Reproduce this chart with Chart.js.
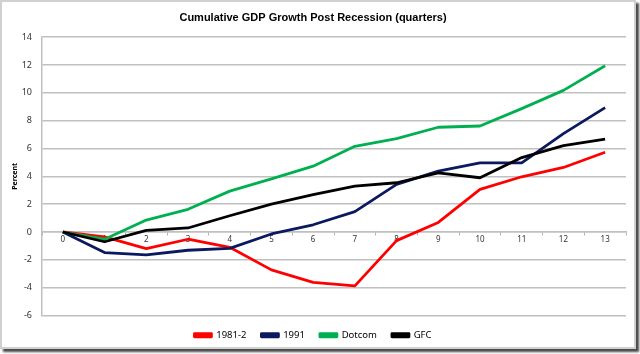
<!DOCTYPE html>
<html>
<head>
<meta charset="utf-8">
<script src="https://cdn.jsdelivr.net/npm/chart.js@4"></script>
<style>
  html, body { margin: 0; padding: 0; background: #fff; }
  #wrap { position: relative; width: 640px; height: 354px; }
  #chart { position: absolute; left: 0; top: 0; }
  /* Excel-style chart frame with drop shadow */
  #frame {
    position: absolute; left: 0; top: 0;
    width: 632px; height: 345px;
    border: 2px solid #d0d0d0;
    box-shadow: 3px 3px 2px #4a4a4a;
    pointer-events: none;
  }
</style>
</head>
<body>
<div id="wrap">
  <canvas id="chart" width="640" height="354"></canvas>
  <div id="frame"></div>
</div>
<script>
// ── Data ─────────────────────────────────────
const quarters = ['0','1','2','3','4','5','6','7','8','9','10','11','12','13'];
const rec1981  = [0, -0.35, -1.20, -0.52, -1.10, -2.72, -3.62, -3.87, -0.62, 0.69, 3.06, 3.97, 4.64, 5.73];
const rec1991  = [0, -1.48, -1.65, -1.31, -1.18, -0.14, 0.52, 1.46, 3.42, 4.37, 4.97, 4.97, 7.07, 8.94];
const dotcom   = [0, -0.52, 0.86, 1.63, 2.94, 3.82, 4.73, 6.16, 6.71, 7.53, 7.62, 8.87, 10.18, 11.95];
const gfc      = [0, -0.70, 0.12, 0.29, 1.17, 2.00, 2.68, 3.30, 3.54, 4.25, 3.90, 5.35, 6.21, 6.67];

const FONT = "'Noto Sans', 'Liberation Sans', sans-serif";

function series(label, data, color, order) {
  return {
    label, data, order,
    borderColor: color, backgroundColor: color,
    borderWidth: 2.8, pointRadius: 0, tension: 0,
    borderJoinStyle: 'round'
  };
}

// ── Chart ────────────────────────────────────
new Chart(document.getElementById('chart'), {
  type: 'line',
  data: {
    labels: quarters,
    datasets: [
      series('1981-2', rec1981, '#ff0000', 4),
      series('1991',   rec1991, '#0b1a5e', 3),
      series('Dotcom', dotcom,  '#00b050', 2),
      series('GFC',    gfc,     '#000000', 1)
    ]
  },
  options: {
    responsive: false,
    animation: false,
    layout: { padding: { left: 0, right: 14, top: 0, bottom: 4 } },
    plugins: {
      title: {
        display: true,
        text: 'Cumulative GDP Growth Post Recession (quarters)',
        color: '#000',
        font: { family: "'Liberation Sans', sans-serif", size: 11, weight: 'bold' },
        padding: { top: 11, bottom: 13 }
      },
      legend: {
        position: 'bottom',
        labels: {
          color: '#000',
          font: { family: FONT, size: 9.5 },
          boxWidth: 17, boxHeight: 3,
          padding: 15,
          sort: (a, b) => a.datasetIndex - b.datasetIndex
        }
      },
      tooltip: { enabled: false }
    },
    scales: {
      x: {
        position: { y: 0 },
        offset: true,
        grid: { display: true, drawOnChartArea: false, drawTicks: true, tickLength: 3, offset: true, color: '#b0b0b0' },
        border: { display: true, color: '#c0c0c0', width: 1.5 },
        ticks: { color: '#333', font: { family: FONT, size: 8 }, padding: 0, maxRotation: 0 }
      },
      y: {
        min: -6, max: 14,
        afterFit: s => { s.width = 42; },
        grid: { color: '#c0c0c0', lineWidth: 1.5, drawTicks: false },
        border: { display: true, color: '#c0c0c0', width: 1.5 },
        ticks: { stepSize: 2, color: '#333', font: { family: FONT, size: 9 }, padding: 10 },
        title: {
          display: true, text: 'Percent', color: '#000',
          font: { family: FONT, size: 7, weight: 'bold' },
          padding: { top: 11, bottom: 0 }
        }
      }
    }
  }
});
</script>
</body>
</html>
